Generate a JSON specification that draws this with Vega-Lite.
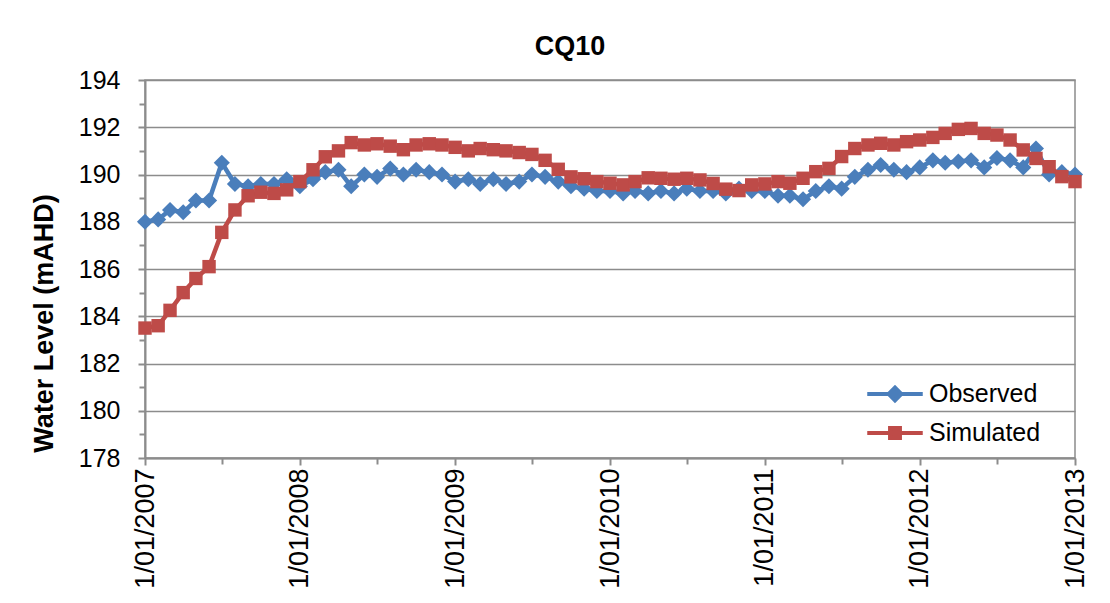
{
  "$schema": "https://vega.github.io/schema/vega-lite/v6.json",
  "autosize": "none",
  "width": 930,
  "height": 378,
  "padding": {"left": 145, "top": 80, "right": 35, "bottom": 145},
  "background": "white",
  "config": {
    "font": "Liberation Sans",
    "view": {"stroke": "#8c8c8c", "strokeWidth": 1.5},
    "axis": {"labelColor": "black", "titleColor": "black"}
  },
  "title": {"text": "CQ10", "fontSize": 27, "fontWeight": "bold", "color": "black", "anchor": "middle", "dx": -40, "baseline": "alphabetic", "offset": -14, "font": "Liberation Sans"},
  "data": {"values": [
    {"date": "2007-01-01", "series": "Observed", "level": 188.0},
    {"date": "2007-02-01", "series": "Observed", "level": 188.1},
    {"date": "2007-03-01", "series": "Observed", "level": 188.5},
    {"date": "2007-04-01", "series": "Observed", "level": 188.4},
    {"date": "2007-05-01", "series": "Observed", "level": 188.9},
    {"date": "2007-06-01", "series": "Observed", "level": 188.9},
    {"date": "2007-07-01", "series": "Observed", "level": 190.5},
    {"date": "2007-08-01", "series": "Observed", "level": 189.6},
    {"date": "2007-09-01", "series": "Observed", "level": 189.5},
    {"date": "2007-10-01", "series": "Observed", "level": 189.6},
    {"date": "2007-11-01", "series": "Observed", "level": 189.6},
    {"date": "2007-12-01", "series": "Observed", "level": 189.8},
    {"date": "2008-01-01", "series": "Observed", "level": 189.5},
    {"date": "2008-02-01", "series": "Observed", "level": 189.8},
    {"date": "2008-03-01", "series": "Observed", "level": 190.1},
    {"date": "2008-04-01", "series": "Observed", "level": 190.2},
    {"date": "2008-05-01", "series": "Observed", "level": 189.5},
    {"date": "2008-06-01", "series": "Observed", "level": 190.0},
    {"date": "2008-07-01", "series": "Observed", "level": 189.9},
    {"date": "2008-08-01", "series": "Observed", "level": 190.25},
    {"date": "2008-09-01", "series": "Observed", "level": 190.0},
    {"date": "2008-10-01", "series": "Observed", "level": 190.2},
    {"date": "2008-11-01", "series": "Observed", "level": 190.1},
    {"date": "2008-12-01", "series": "Observed", "level": 190.0},
    {"date": "2009-01-01", "series": "Observed", "level": 189.7},
    {"date": "2009-02-01", "series": "Observed", "level": 189.8},
    {"date": "2009-03-01", "series": "Observed", "level": 189.6},
    {"date": "2009-04-01", "series": "Observed", "level": 189.8},
    {"date": "2009-05-01", "series": "Observed", "level": 189.6},
    {"date": "2009-06-01", "series": "Observed", "level": 189.7},
    {"date": "2009-07-01", "series": "Observed", "level": 190.0},
    {"date": "2009-08-01", "series": "Observed", "level": 189.9},
    {"date": "2009-09-01", "series": "Observed", "level": 189.7},
    {"date": "2009-10-01", "series": "Observed", "level": 189.5},
    {"date": "2009-11-01", "series": "Observed", "level": 189.4},
    {"date": "2009-12-01", "series": "Observed", "level": 189.3},
    {"date": "2010-01-01", "series": "Observed", "level": 189.3},
    {"date": "2010-02-01", "series": "Observed", "level": 189.2},
    {"date": "2010-03-01", "series": "Observed", "level": 189.3},
    {"date": "2010-04-01", "series": "Observed", "level": 189.2},
    {"date": "2010-05-01", "series": "Observed", "level": 189.3},
    {"date": "2010-06-01", "series": "Observed", "level": 189.2},
    {"date": "2010-07-01", "series": "Observed", "level": 189.4},
    {"date": "2010-08-01", "series": "Observed", "level": 189.3},
    {"date": "2010-09-01", "series": "Observed", "level": 189.3},
    {"date": "2010-10-01", "series": "Observed", "level": 189.2},
    {"date": "2010-11-01", "series": "Observed", "level": 189.4},
    {"date": "2010-12-01", "series": "Observed", "level": 189.3},
    {"date": "2011-01-01", "series": "Observed", "level": 189.3},
    {"date": "2011-02-01", "series": "Observed", "level": 189.1},
    {"date": "2011-03-01", "series": "Observed", "level": 189.1},
    {"date": "2011-04-01", "series": "Observed", "level": 188.95},
    {"date": "2011-05-01", "series": "Observed", "level": 189.3},
    {"date": "2011-06-01", "series": "Observed", "level": 189.5},
    {"date": "2011-07-01", "series": "Observed", "level": 189.4},
    {"date": "2011-08-01", "series": "Observed", "level": 189.9},
    {"date": "2011-09-01", "series": "Observed", "level": 190.2},
    {"date": "2011-10-01", "series": "Observed", "level": 190.4},
    {"date": "2011-11-01", "series": "Observed", "level": 190.2},
    {"date": "2011-12-01", "series": "Observed", "level": 190.1},
    {"date": "2012-01-01", "series": "Observed", "level": 190.3},
    {"date": "2012-02-01", "series": "Observed", "level": 190.6},
    {"date": "2012-03-01", "series": "Observed", "level": 190.5},
    {"date": "2012-04-01", "series": "Observed", "level": 190.55},
    {"date": "2012-05-01", "series": "Observed", "level": 190.6},
    {"date": "2012-06-01", "series": "Observed", "level": 190.3},
    {"date": "2012-07-01", "series": "Observed", "level": 190.7},
    {"date": "2012-08-01", "series": "Observed", "level": 190.6},
    {"date": "2012-09-01", "series": "Observed", "level": 190.3},
    {"date": "2012-10-01", "series": "Observed", "level": 191.1},
    {"date": "2012-11-01", "series": "Observed", "level": 190.0},
    {"date": "2012-12-01", "series": "Observed", "level": 190.1},
    {"date": "2013-01-01", "series": "Observed", "level": 190.0},
    {"date": "2007-01-01", "series": "Simulated", "level": 183.5},
    {"date": "2007-02-01", "series": "Simulated", "level": 183.6},
    {"date": "2007-03-01", "series": "Simulated", "level": 184.25},
    {"date": "2007-04-01", "series": "Simulated", "level": 185.0},
    {"date": "2007-05-01", "series": "Simulated", "level": 185.6},
    {"date": "2007-06-01", "series": "Simulated", "level": 186.1},
    {"date": "2007-07-01", "series": "Simulated", "level": 187.55},
    {"date": "2007-08-01", "series": "Simulated", "level": 188.5},
    {"date": "2007-09-01", "series": "Simulated", "level": 189.1},
    {"date": "2007-10-01", "series": "Simulated", "level": 189.25},
    {"date": "2007-11-01", "series": "Simulated", "level": 189.2},
    {"date": "2007-12-01", "series": "Simulated", "level": 189.35},
    {"date": "2008-01-01", "series": "Simulated", "level": 189.7},
    {"date": "2008-02-01", "series": "Simulated", "level": 190.2},
    {"date": "2008-03-01", "series": "Simulated", "level": 190.75},
    {"date": "2008-04-01", "series": "Simulated", "level": 191.0},
    {"date": "2008-05-01", "series": "Simulated", "level": 191.35},
    {"date": "2008-06-01", "series": "Simulated", "level": 191.25},
    {"date": "2008-07-01", "series": "Simulated", "level": 191.3},
    {"date": "2008-08-01", "series": "Simulated", "level": 191.2},
    {"date": "2008-09-01", "series": "Simulated", "level": 191.05},
    {"date": "2008-10-01", "series": "Simulated", "level": 191.25},
    {"date": "2008-11-01", "series": "Simulated", "level": 191.3},
    {"date": "2008-12-01", "series": "Simulated", "level": 191.25},
    {"date": "2009-01-01", "series": "Simulated", "level": 191.15},
    {"date": "2009-02-01", "series": "Simulated", "level": 191.0},
    {"date": "2009-03-01", "series": "Simulated", "level": 191.1},
    {"date": "2009-04-01", "series": "Simulated", "level": 191.05},
    {"date": "2009-05-01", "series": "Simulated", "level": 191.0},
    {"date": "2009-06-01", "series": "Simulated", "level": 190.93},
    {"date": "2009-07-01", "series": "Simulated", "level": 190.85},
    {"date": "2009-08-01", "series": "Simulated", "level": 190.6},
    {"date": "2009-09-01", "series": "Simulated", "level": 190.22},
    {"date": "2009-10-01", "series": "Simulated", "level": 189.9},
    {"date": "2009-11-01", "series": "Simulated", "level": 189.82},
    {"date": "2009-12-01", "series": "Simulated", "level": 189.7},
    {"date": "2010-01-01", "series": "Simulated", "level": 189.63},
    {"date": "2010-02-01", "series": "Simulated", "level": 189.56},
    {"date": "2010-03-01", "series": "Simulated", "level": 189.7},
    {"date": "2010-04-01", "series": "Simulated", "level": 189.86},
    {"date": "2010-05-01", "series": "Simulated", "level": 189.84},
    {"date": "2010-06-01", "series": "Simulated", "level": 189.8},
    {"date": "2010-07-01", "series": "Simulated", "level": 189.84},
    {"date": "2010-08-01", "series": "Simulated", "level": 189.77},
    {"date": "2010-09-01", "series": "Simulated", "level": 189.62},
    {"date": "2010-10-01", "series": "Simulated", "level": 189.38},
    {"date": "2010-11-01", "series": "Simulated", "level": 189.32},
    {"date": "2010-12-01", "series": "Simulated", "level": 189.56},
    {"date": "2011-01-01", "series": "Simulated", "level": 189.6},
    {"date": "2011-02-01", "series": "Simulated", "level": 189.7},
    {"date": "2011-03-01", "series": "Simulated", "level": 189.63},
    {"date": "2011-04-01", "series": "Simulated", "level": 189.84},
    {"date": "2011-05-01", "series": "Simulated", "level": 190.12},
    {"date": "2011-06-01", "series": "Simulated", "level": 190.26},
    {"date": "2011-07-01", "series": "Simulated", "level": 190.76},
    {"date": "2011-08-01", "series": "Simulated", "level": 191.1},
    {"date": "2011-09-01", "series": "Simulated", "level": 191.25},
    {"date": "2011-10-01", "series": "Simulated", "level": 191.32},
    {"date": "2011-11-01", "series": "Simulated", "level": 191.25},
    {"date": "2011-12-01", "series": "Simulated", "level": 191.39},
    {"date": "2012-01-01", "series": "Simulated", "level": 191.46},
    {"date": "2012-02-01", "series": "Simulated", "level": 191.57},
    {"date": "2012-03-01", "series": "Simulated", "level": 191.74},
    {"date": "2012-04-01", "series": "Simulated", "level": 191.91},
    {"date": "2012-05-01", "series": "Simulated", "level": 191.95},
    {"date": "2012-06-01", "series": "Simulated", "level": 191.74},
    {"date": "2012-07-01", "series": "Simulated", "level": 191.67},
    {"date": "2012-08-01", "series": "Simulated", "level": 191.46},
    {"date": "2012-09-01", "series": "Simulated", "level": 191.04},
    {"date": "2012-10-01", "series": "Simulated", "level": 190.68},
    {"date": "2012-11-01", "series": "Simulated", "level": 190.33},
    {"date": "2012-12-01", "series": "Simulated", "level": 189.91},
    {"date": "2013-01-01", "series": "Simulated", "level": 189.7}
  ]},
  "resolve": {"axis": {"x": "independent", "y": "independent"}},
  "layer": [
    {
      "transform": [{"filter": "datum.series === 'Observed'"}],
      "mark": {"type": "line", "strokeWidth": 4.5, "strokeJoin": "round"},
      "encoding": {
        "x": {"field": "date", "type": "temporal",
          "scale": {"domain": [{"year": 2007, "month": 1, "date": 1}, {"year": 2013, "month": 1, "date": 1}], "nice": false},
          "axis": {"orient": "bottom", "title": null, "values": [{"year": 2007, "month": 1, "date": 1}, {"year": 2008, "month": 1, "date": 1}, {"year": 2009, "month": 1, "date": 1}, {"year": 2010, "month": 1, "date": 1}, {"year": 2011, "month": 1, "date": 1}, {"year": 2012, "month": 1, "date": 1}, {"year": 2013, "month": 1, "date": 1}],
            "format": "%-d/%m/%Y", "labelAngle": 270, "labelAlign": "right", "labelBaseline": "middle", "labelFontSize": 27, "labelPadding": 3, "labelFlush": false, "labelOverlap": false,
            "grid": false, "domainColor": "#8c8c8c", "domainWidth": 2, "tickColor": "#8c8c8c", "tickWidth": 2, "tickSize": 7}},
        "y": {"field": "level", "type": "quantitative",
          "scale": {"domain": [178, 194], "nice": false, "zero": false},
          "axis": {"orient": "left", "title": "Water Level (mAHD)", "values": [178, 180, 182, 184, 186, 188, 190, 192, 194],
            "labelFontSize": 25, "labelPadding": 18, "tickSize": 7, "tickColor": "#8c8c8c", "tickWidth": 2, "domainColor": "#8c8c8c", "domainWidth": 2,
            "grid": true, "gridColor": "#8c8c8c", "gridWidth": 1.5,
            "titleFontSize": 27, "titleFontWeight": "bold", "titleAngle": 270, "titleX": -101, "titleY": 243, "titleAlign": "center", "titleBaseline": "middle"}},
        "color": {"field": "series", "type": "nominal",
          "scale": {"domain": ["Observed", "Simulated"], "range": ["#4A7EBB", "#BE4B48"]},
          "legend": {"orient": "none", "legendX": 733, "legendY": 297, "title": null, "padding": 0, "symbolSize": 900, "labelFontSize": 25, "labelColor": "black", "labelOffset": 17, "rowPadding": 7, "labelBaseline": "middle",
            "encode": {"symbols": {"update": {
              "shape": {"signal": "datum.value === 'Observed' ? 'M-1.85,0L1.85,0M-0.42,0L0,-0.42L0.42,0L0,0.42Z' : 'M-1.85,0L1.85,0M-0.33,-0.33L0.33,-0.33L0.33,0.33L-0.33,0.33Z'"},
              "fill": {"signal": "scale('color', datum.value)"},
              "stroke": {"signal": "scale('color', datum.value)"},
              "strokeWidth": {"value": 4},
              "opacity": {"value": 1}}}}}}
      }
    },
    {
      "transform": [{"filter": "datum.series === 'Observed'"}],
      "mark": {"type": "point", "shape": "diamond", "filled": true, "size": 260, "opacity": 1},
      "encoding": {
        "x": {"field": "date", "type": "temporal", "axis": {"orient": "bottom", "title": null, "values": [{"year": 2007, "month": 7, "date": 1}, {"year": 2008, "month": 7, "date": 1}, {"year": 2009, "month": 7, "date": 1}, {"year": 2010, "month": 7, "date": 1}, {"year": 2011, "month": 7, "date": 1}, {"year": 2012, "month": 7, "date": 1}], "labels": false, "domain": false, "grid": false, "tickColor": "#8c8c8c", "tickWidth": 2, "tickSize": 6}},
        "y": {"field": "level", "type": "quantitative", "axis": {"orient": "left", "title": null, "values": [179, 181, 183, 185, 187, 189, 191, 193], "labels": false, "domain": false, "grid": false, "tickColor": "#8c8c8c", "tickWidth": 2, "tickSize": 6}},
        "color": {"field": "series", "type": "nominal"}
      }
    },
    {
      "transform": [{"filter": "datum.series === 'Simulated'"}],
      "mark": {"type": "line", "strokeWidth": 4.5, "strokeJoin": "round"},
      "encoding": {
        "x": {"field": "date", "type": "temporal", "axis": null},
        "y": {"field": "level", "type": "quantitative", "axis": null},
        "color": {"field": "series", "type": "nominal"}
      }
    },
    {
      "transform": [{"filter": "datum.series === 'Simulated'"}],
      "mark": {"type": "point", "shape": "square", "filled": true, "size": 180, "opacity": 1},
      "encoding": {
        "x": {"field": "date", "type": "temporal", "axis": null},
        "y": {"field": "level", "type": "quantitative", "axis": null},
        "color": {"field": "series", "type": "nominal"}
      }
    }
  ]
}
